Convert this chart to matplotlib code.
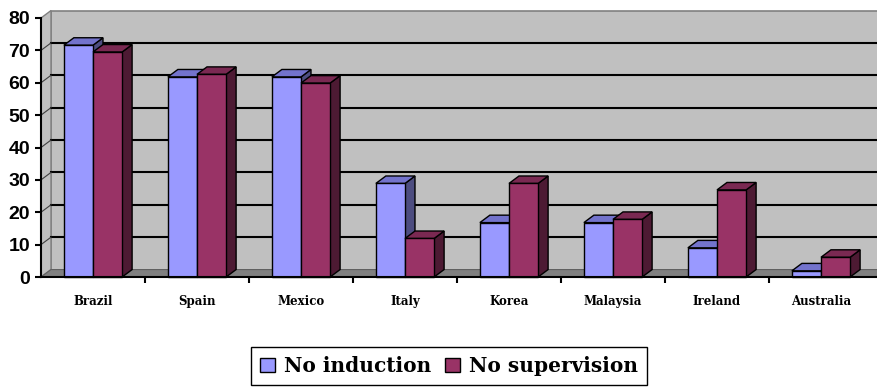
import numpy as np
import matplotlib.pyplot as plt
from matplotlib.patches import Polygon, Patch

countries = ['Brazil', 'Spain', 'Mexico', 'Italy', 'Korea', 'Malaysia', 'Ireland', 'Australia']
no_induction = [71.6, 61.8, 61.8, 28.9, 16.8, 16.8, 9.0, 1.9]
no_supervision = [69.5, 62.6, 59.9, 11.9, 28.9, 17.8, 26.9, 6.1]
series_names = ['No induction', 'No supervision']

# face colours: front, top, side
blue = ('#9999FF', '#7373CC', '#4D4D80')
red = ('#993366', '#7A2952', '#4D1A33')

DX = 0.096   # depth offset in category units
DY = 2.3     # depth offset in value units
W = 0.28     # bar width

fig = plt.figure(figsize=(8.77, 3.89), dpi=100)
ax = fig.add_axes([41 / 877, 112 / 389, 832 / 877, 259 / 389])
ax.set_xlim(-0.5, 7.5)
ax.set_ylim(0, 80)
ax.patch.set_visible(False)


def poly(pts, fc, ec='black', lw=1.0, z=2):
    ax.add_patch(Polygon(pts, closed=True, facecolor=fc, edgecolor=ec,
                         linewidth=lw, zorder=z, clip_on=False, joinstyle='miter'))


x0, x1 = -0.5, 7.6
# back wall, side wall, floor
poly([(x0 + DX, DY), (x1 + DX, DY), (x1 + DX, 80 + DY), (x0 + DX, 80 + DY)], '#C0C0C0', ec='#808080', lw=1.2, z=0)
poly([(x0, 0), (x0 + DX, DY), (x0 + DX, 80 + DY), (x0, 80)], '#C0C0C0', ec='#808080', lw=1.0, z=0)
poly([(x0, 0), (x1, 0), (x1 + DX, DY), (x0 + DX, DY)], '#808080', ec='#606060', lw=0.8, z=0.5)

for k in range(1, 8):
    v = k * 10
    ax.plot([x0 + DX, x1 + DX], [v + DY, v + DY], color='black', lw=1.5, zorder=0.6, clip_on=False)
    ax.plot([x0, x0 + DX], [v, v + DY], color='#404040', lw=0.8, zorder=0.6, clip_on=False)


def bar3d(left, value, cols):
    right = left + W
    poly([(right, 0), (right + DX, DY), (right + DX, value + DY), (right, value)], cols[2])
    poly([(left, value), (right, value), (right + DX, value + DY), (left + DX, value + DY)], cols[1])
    poly([(left, 0), (right, 0), (right, value), (left, value)], cols[0])


for i in range(len(countries)):
    bar3d(i - W, no_induction[i], blue)
    bar3d(i, no_supervision[i], red)

# axes
for s in ['top', 'right']:
    ax.spines[s].set_visible(False)
ax.spines['left'].set_linewidth(1.5)
ax.spines['bottom'].set_linewidth(1.5)
ax.spines['bottom'].set_bounds(-0.5, 7.6)
ax.spines['left'].set_zorder(5)
ax.spines['bottom'].set_zorder(5)

ax.set_yticks(range(0, 81, 10))
ax.tick_params(axis='y', length=4, width=1.5, pad=4, direction='out')
for lab in ax.get_yticklabels():
    lab.set_fontfamily('Liberation Sans')
    lab.set_fontweight('bold')
    lab.set_fontsize(14)

ax.set_xticks(range(len(countries)))
ax.set_xticklabels(countries, fontfamily='DejaVu Serif', fontweight='bold', fontsize=8.5)
ax.set_xticks(np.arange(0.5, 7.5, 1.0), minor=True)
ax.tick_params(axis='x', which='major', length=0, pad=13)
ax.tick_params(axis='x', which='minor', length=4, width=1.5, direction='out')

handles = [Patch(facecolor=blue[0], edgecolor='black', linewidth=1.0),
           Patch(facecolor=red[0], edgecolor='black', linewidth=1.0)]
leg = fig.legend(handles, series_names, loc='center', bbox_to_anchor=(449 / 877, 23 / 389),
                 ncol=2, frameon=True, fancybox=False, edgecolor='black', framealpha=1,
                 prop={'family': 'DejaVu Serif', 'weight': 'bold', 'size': 14.5},
                 handlelength=0.75, handleheight=0.75, handletextpad=0.45,
                 columnspacing=0.7, borderpad=0.45, borderaxespad=0)
leg.get_frame().set_linewidth(1.0)

fig.savefig('out.png', dpi=100, facecolor='white')
